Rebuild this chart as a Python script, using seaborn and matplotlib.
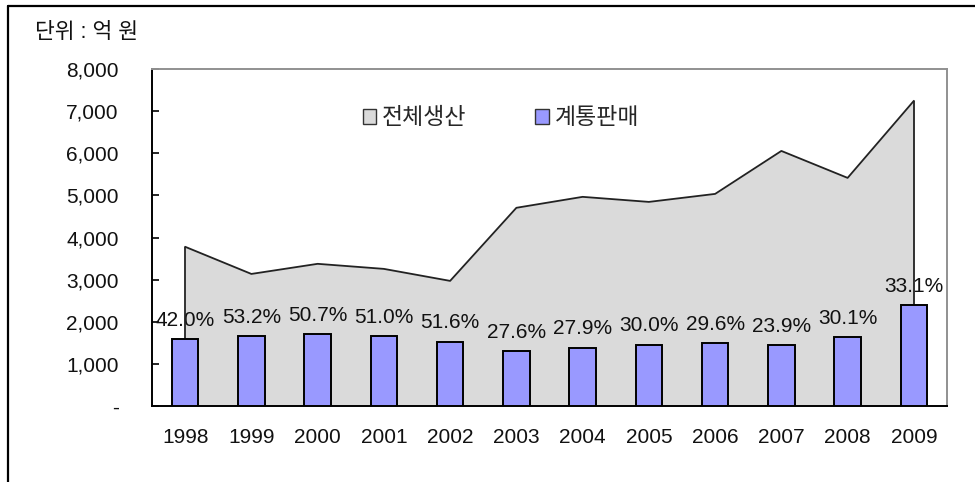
import matplotlib
matplotlib.use("Agg")
import matplotlib.pyplot as plt
import seaborn as sns
import pandas as pd
from matplotlib.lines import Line2D
from matplotlib.patches import Patch
from matplotlib.ticker import FixedLocator, FixedFormatter

years = ["1998", "1999", "2000", "2001", "2002", "2003", "2004", "2005", "2006", "2007", "2008", "2009"]
total_production = [3780, 3135, 3375, 3255, 2970, 4705, 4965, 4845, 5035, 6055, 5415, 7245]
grid_sales = [1590, 1665, 1710, 1660, 1530, 1300, 1385, 1455, 1490, 1450, 1630, 2400]
share_labels = ["42.0%", "53.2%", "50.7%", "51.0%", "51.6%", "27.6%", "27.9%", "30.0%",
                "29.6%", "23.9%", "30.1%", "33.1%"]
ytick_values = [0, 1000, 2000, 3000, 4000, 5000, 6000, 7000, 8000]
ytick_labels = ["-", "1,000", "2,000", "3,000", "4,000", "5,000", "6,000", "7,000", "8,000"]
series_names = ["전체생산", "계통판매"]
unit_label = "단위 : 억 원"

sns.set_theme(style="white")
plt.rcParams["font.family"] = ["Liberation Sans", "Noto Sans CJK KR", "DejaVu Sans"]

fig = plt.figure(figsize=(9.75, 4.82), dpi=100)
ax = fig.add_axes([152 / 975, 1 - 406 / 482, (947 - 152) / 975, (406 - 69) / 482])

df = pd.DataFrame({"year": years, "total": total_production, "sales": grid_sales})
pos = list(range(len(years)))

area_color = "#dadada"
bar_color = "#9999ff"

# area (전체생산)
ax.fill_between(pos, total_production, 0, color=area_color, lw=0, zorder=1)
sns.lineplot(x=pos, y=total_production, ax=ax, color="#222222", lw=1.3, zorder=3)
ax.vlines([pos[0], pos[-1]], 0, [total_production[0], total_production[-1]],
          color="#222222", lw=1.3, zorder=3)

# bars (계통판매)
sns.barplot(data=df, x="year", y="sales", ax=ax, color=bar_color, width=0.4,
            edgecolor="black", linewidth=1.4, saturation=1, zorder=4)

for p, v, lab in zip(pos, grid_sales, share_labels):
    ax.annotate(lab, (p, v), xytext=(0, 13.5), textcoords="offset points",
                ha="center", va="center", fontsize=15, color="#111111", zorder=2)

ax.set_xlim(-0.5, len(years) - 0.5)
ax.set_ylim(0, 8000)
ax.yaxis.set_major_locator(FixedLocator(ytick_values))
ax.yaxis.set_major_formatter(FixedFormatter(ytick_labels))
ax.set_xlabel("")
ax.set_ylabel("")

ax.tick_params(axis="y", direction="in", length=5, width=1.2, color="black",
               pad=24, labelsize=15, labelcolor="#111111", left=True)
ax.tick_params(axis="x", which="major", length=0, pad=16, labelsize=15, labelcolor="#111111")
ax.xaxis.set_minor_locator(FixedLocator([i + 0.5 for i in range(len(years) - 1)]))
ax.tick_params(axis="x", which="minor", direction="in", length=5, width=1.2,
               color="black", bottom=True)

for s in ["left", "bottom"]:
    ax.spines[s].set_color("black")
    ax.spines[s].set_linewidth(1.4)
for s in ["top", "right"]:
    ax.spines[s].set_color("#909090")
    ax.spines[s].set_linewidth(1.4)
ax.set_facecolor("white")

handles = [Patch(facecolor=area_color, edgecolor="#333333", lw=1),
           Patch(facecolor=bar_color, edgecolor="#333333", lw=1)]
ax.legend(handles, series_names, ncol=2, loc="center", bbox_to_anchor=(0.439, 0.855),
          frameon=False, handlelength=0.6, handleheight=0.6, handletextpad=0.25,
          columnspacing=3.0, fontsize=16.5)

fig.text(35 / 975, 1 - 33 / 482, unit_label, fontsize=15.5, va="center", ha="left",
         color="#111111")

# outer frame (top and left visible)
fig.add_artist(Line2D([8 / 975, 1.0], [1 - 6 / 482, 1 - 6 / 482], transform=fig.transFigure,
                      color="black", lw=1.6))
fig.add_artist(Line2D([8 / 975, 8 / 975], [0.0, 1 - 6 / 482], transform=fig.transFigure,
                      color="black", lw=1.6))

fig.savefig("out.png", dpi=100)
